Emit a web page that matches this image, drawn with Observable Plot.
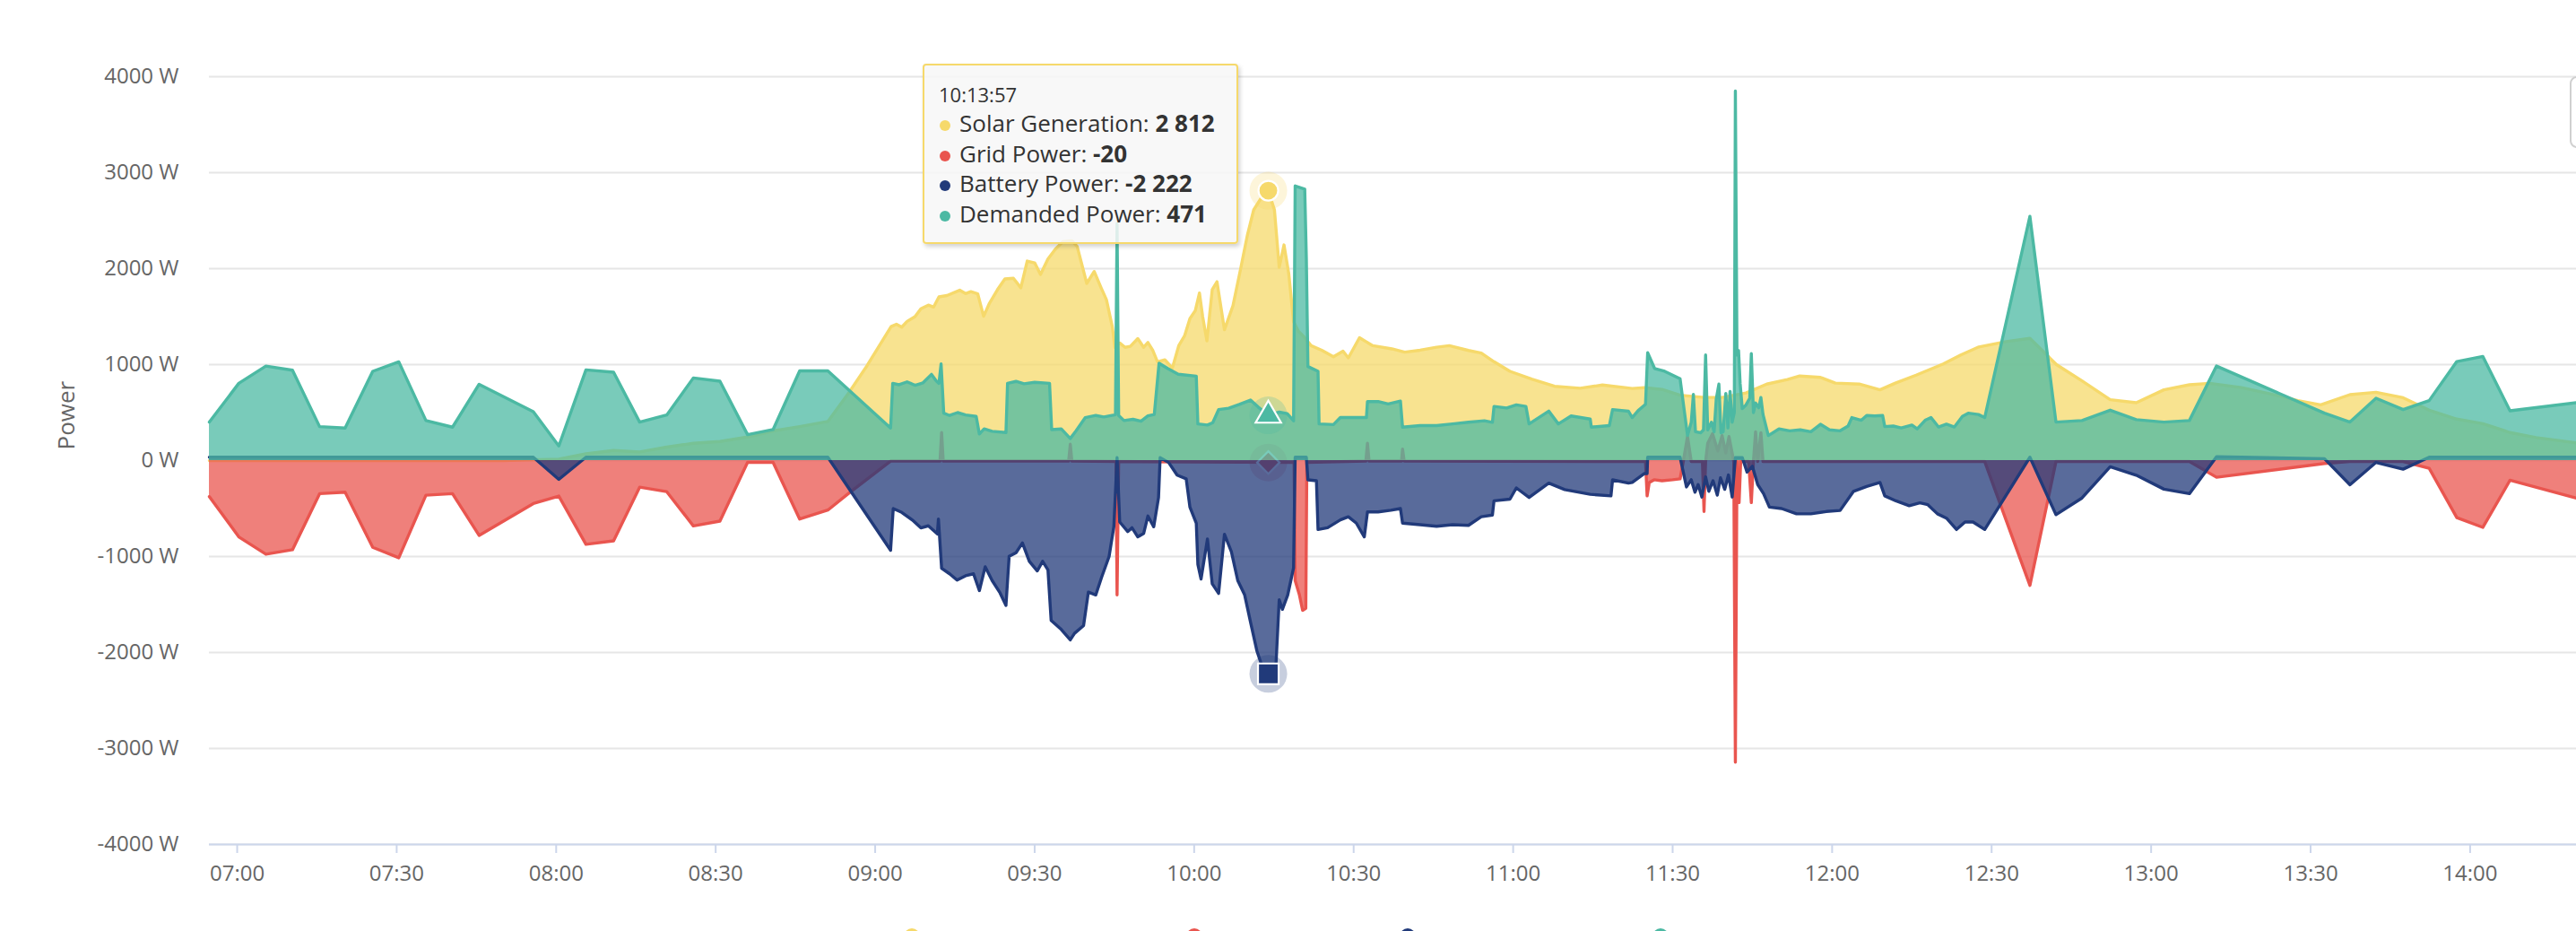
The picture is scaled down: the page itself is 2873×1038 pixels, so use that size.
<!DOCTYPE html>
<html>
<head>
<meta charset="utf-8">
<script src="https://cdn.jsdelivr.net/npm/d3@7"></script>
<script src="https://cdn.jsdelivr.net/npm/@observablehq/plot@0.6"></script>
<style>
  html, body { margin: 0; padding: 0; background: #fff; overflow: hidden; }
  #wrap { position: relative; width: 2873px; height: 1038px; overflow: hidden; font-family: "Open Sans", sans-serif; }
  #chart svg { display: block; }
  #tooltip { position: absolute; left: 1029px; top: 71px; width: 348px; height: 197px; box-sizing: content-box;
    background: rgba(247,247,247,0.85); border: 2px solid #f6d96b; border-radius: 4px;
    box-shadow: 2px 3px 5px rgba(0,0,0,0.18); color: #333; }
  #tooltip .hdr { position: absolute; left: 16px; top: 20px; font-size: 22px; line-height: 24px; white-space: nowrap; }
  #tooltip .row { position: absolute; left: 39px; font-size: 26px; line-height: 30px; white-space: nowrap; }
  #tooltip .dot { position: absolute; left: 17px; width: 12px; height: 12px; border-radius: 50%; }
  #legend { position: absolute; left: 0; top: 1020px; width: 2873px; height: 40px; }
  #legend .sym { position: absolute; top: 15px; width: 18px; height: 18px; border-radius: 50%; }
  #ctx { position: absolute; left: 2866px; top: 85px; width: 40px; height: 76px; border: 2px solid #d0d0d0; border-radius: 8px; background: #fff; }
</style>
</head>
<body>
<div id="wrap">
  <div id="chart"></div>
  <div id="tooltip"></div>
  <div id="legend"></div>
  <div id="ctx"></div>
</div>
<script>
// ---------- data (time of day, watts) ----------
const xTickLabels = ["07:00","07:30","08:00","08:30","09:00","09:30","10:00","10:30","11:00","11:30","12:00","12:30","13:00","13:30","14:00"];
const yTicks = [-4000,-3000,-2000,-1000,0,1000,2000,3000,4000];
const xDomain = ["06:54:46","14:20:00"];
const yAxisTitle = "Power";

const solarGeneration = [
["06:54:46",0],["07:50:00",0],["08:00:30",15],["08:05:36",70],["08:10:48",105],["08:15:42",90],["08:20:48",140],
["08:25:48",180],["08:30:48",199],["08:36:00",245],["08:40:48",308],["08:45:48",354],["08:51:06",407],["08:55:06",711],
["08:58:30",991],["09:03:00",1396],["09:04:00",1420],["09:05:00",1390],["09:06:00",1450],["09:07:30",1500],["09:08:36",1582],
["09:10:00",1620],["09:11:00",1600],["09:12:00",1706],["09:13:30",1720],["09:15:54",1775],["09:17:00",1740],["09:18:00",1760],
["09:19:18",1737],["09:20:24",1504],["09:21:30",1640],["09:23:00",1780],["09:24:24",1893],["09:26:00",1900],["09:27:24",1800],
["09:28:36",2079],["09:30:00",2060],["09:31:06",1939],["09:32:30",2100],["09:33:54",2203],["09:35:18",2281],["09:37:00",2290],
["09:38:00",2230],["09:39:48",1846],["09:41:12",1970],["09:42:30",1800],["09:43:30",1676],["09:44:36",1396],["09:45:06",1178],
["09:46:00",1225],["09:47:00",1180],["09:48:00",1190],["09:49:24",1271],["09:50:30",1180],["09:51:18",1231],["09:52:12",1150],
["09:53:06",1030],["09:54:30",1050],["09:55:54",964],["09:57:06",1197],["09:58:12",1300],["09:59:12",1480],["10:00:12",1560],
["10:01:00",1746],["10:01:36",1500],["10:02:24",1247],["10:03:24",1781],["10:04:18",1863],["10:05:42",1363],["10:07:18",1613],
["10:08:48",2014],["10:10:00",2346],["10:11:12",2612],["10:12:42",2745],["10:13:57",2812],["10:15:06",2612],["10:16:00",2014],
["10:16:54",2247],["10:17:48",1946],["10:18:42",1446],["10:19:36",1350],["10:20:48",1280],["10:22:00",1197],["10:24:00",1150],
["10:26:12",1082],["10:28:00",1140],["10:29:00",1070],["10:31:06",1280],["10:33:36",1197],["10:37:12",1164],["10:39:36",1130],
["10:42:30",1150],["10:45:36",1181],["10:48:00",1197],["10:51:36",1147],["10:54:00",1120],["10:56:24",1030],["10:59:24",930],
["11:03:36",847],["11:07:48",774],["11:12:36",754],["11:16:48",787],["11:22:24",751],["11:24:42",760],["11:28:00",741],
["11:31:24",681],["11:35:54",658],["11:39:18",658],["11:43:48",704],["11:47:42",797],["11:51:36",844],["11:53:54",881],
["11:57:48",867],["12:00:36",807],["12:05:06",797],["12:09:00",737],["12:11:54",807],["12:15:48",890],["12:20:54",1007],
["12:24:12",1100],["12:27:36",1184],["12:32:42",1240],["12:37:12",1273],["12:42:12",1000],["12:47:00",830],["12:52:18",634],
["12:57:12",603],["13:02:24",737],["13:07:12",790],["13:11:00",805],["13:17:00",760],["13:22:00",700],["13:27:36",625],
["13:31:54",581],["13:37:24",687],["13:42:18",711],["13:47:24",655],["13:52:18",525],["13:57:30",432],["14:02:24",385],
["14:07:30",292],["14:12:24",240],["14:20:00",184]
];

const gridPower = [
["06:54:46",-376],["07:00:18",-795],["07:05:24",-976],["07:10:24",-929],["07:15:30",-345],["07:20:18",-329],["07:25:30",-904],
["07:30:24",-1013],["07:35:30",-361],["07:40:30",-345],["07:45:30",-780],["07:55:42",-448],["08:00:30",-370],["08:05:36",-873],
["08:10:48",-836],["08:15:42",-277],["08:20:48",-324],["08:25:48",-681],["08:30:48",-631],["08:36:00",-19],["08:40:48",-19],
["08:45:48",-609],["08:51:06",-516],["08:55:06",-338],["09:02:54",-5],["09:12:12",-5],["09:12:30",292],["09:12:48",-5],
["09:36:24",-5],["09:36:42",170],["09:37:00",-5],["09:45:18",-10],["09:45:30",-1399],["09:45:48",-10],["10:18:48",-20],
["10:19:00",-1250],["10:19:48",-1400],["10:20:24",-1560],["10:21:00",-1540],["10:21:12",-20],["10:32:18",-5],["10:32:36",180],
["10:32:54",-5],["10:39:00",-5],["10:39:12",120],["10:39:30",-5],["11:24:54",-10],["11:25:12",-368],["11:25:36",-228],
["11:26:30",-200],["11:28:00",-210],["11:30:00",-200],["11:31:24",-190],["11:32:00",-10],["11:32:48",250],["11:33:30",-10],
["11:35:36",-10],["11:35:54",-531],["11:36:12",-10],["11:36:36",180],["11:37:30",280],["11:38:30",100],["11:39:18",260],
["11:40:00",80],["11:40:36",250],["11:41:30",-10],["11:41:48",-3142],["11:42:06",-10],["11:42:30",-438],["11:42:48",-10],
["11:44:18",-10],["11:44:48",-438],["11:45:12",-10],["11:45:36",300],["11:46:00",-10],["11:46:36",290],["11:47:00",-10],
["12:28:42",-10],["12:37:12",-1301],["12:42:06",-10],["13:07:12",-10],["13:12:18",-174],["13:32:36",-30],["13:37:24",-10],
["13:47:24",-10],["13:52:18",-81],["13:57:30",-594],["14:02:24",-696],["14:07:30",-205],["14:20:00",-392]
];

const batteryPower = [
["06:54:46",35],["07:55:42",35],["08:00:30",-196],["08:05:36",35],["08:51:06",35],["09:02:54",-935],["09:03:24",-500],
["09:05:00",-540],["09:07:00",-620],["09:08:36",-702],["09:10:00",-680],["09:11:42",-765],["09:11:54",-609],["09:12:30",-1122],
["09:14:00",-1180],["09:15:24",-1246],["09:17:00",-1200],["09:18:30",-1180],["09:19:36",-1355],["09:20:42",-1107],["09:22:00",-1250],
["09:23:30",-1380],["09:24:36",-1510],["09:25:12",-998],["09:26:30",-960],["09:27:42",-858],["09:29:00",-1050],["09:30:30",-1150],
["09:31:30",-1050],["09:32:30",-1140],["09:33:06",-1666],["09:35:00",-1760],["09:36:42",-1868],["09:37:30",-1800],["09:39:12",-1720],
["09:40:06",-1371],["09:41:30",-1400],["09:42:36",-1215],["09:44:00",-1000],["09:44:54",-687],["09:45:30",30],["09:46:00",-640],
["09:47:30",-740],["09:48:18",-700],["09:49:24",-795],["09:50:30",-760],["09:51:18",-578],["09:52:24",-690],["09:53:18",-385],
["09:53:36",30],["09:55:12",-20],["09:56:48",-152],["09:58:30",-190],["09:59:12",-485],["10:00:24",-652],["10:00:42",-1084],
["10:01:18",-1234],["10:02:30",-818],["10:03:24",-1284],["10:04:36",-1384],["10:05:42",-768],["10:07:00",-950],["10:08:12",-1250],
["10:09:30",-1400],["10:10:36",-1684],["10:11:48",-1983],["10:13:00",-2180],["10:13:57",-2222],["10:15:24",-2117],["10:16:00",-1451],
["10:16:36",-1550],["10:17:36",-1400],["10:18:42",-1118],["10:19:00",35],["10:21:06",35],["10:21:24",-201],["10:23:00",-210],
["10:23:18",-718],["10:25:06",-700],["10:27:30",-618],["10:29:00",-585],["10:30:30",-652],["10:32:00",-795],["10:32:36",-535],
["10:34:36",-535],["10:37:00",-518],["10:38:48",-500],["10:39:12",-652],["10:42:30",-668],["10:45:36",-685],["10:48:36",-668],
["10:51:36",-675],["10:54:00",-585],["10:56:06",-568],["10:56:24",-419],["10:59:24",-402],["11:00:36",-285],["11:03:00",-385],
["11:06:42",-235],["11:09:42",-302],["11:14:30",-352],["11:18:24",-368],["11:18:42",-201],["11:21:42",-235],["11:22:24",-228],
["11:24:42",-135],["11:25:12",-135],["11:25:18",35],["11:31:24",35],["11:32:36",-275],["11:33:30",-200],["11:34:12",-330],
["11:34:48",-250],["11:35:30",-380],["11:36:12",-170],["11:36:48",-320],["11:37:36",-210],["11:38:24",-360],["11:39:00",-180],
["11:39:48",-300],["11:40:30",-150],["11:41:12",-380],["11:41:48",30],["11:43:06",30],["11:44:00",-120],["11:45:00",-60],
["11:46:00",-250],["11:47:06",-345],["11:48:12",-485],["11:50:30",-500],["11:53:18",-555],["11:56:00",-555],["11:58:54",-531],
["12:01:30",-520],["12:04:00",-322],["12:06:30",-270],["12:09:00",-228],["12:09:54",-368],["12:12:00",-420],["12:14:30",-470],
["12:16:30",-440],["12:18:00",-460],["12:19:48",-555],["12:21:30",-600],["12:23:24",-718],["12:25:00",-640],["12:26:30",-640],
["12:28:42",-718],["12:37:12",35],["12:42:06",-564],["12:47:00",-390],["12:52:18",-65],["12:57:12",-152],["13:02:24",-298],
["13:07:12",-345],["13:12:18",40],["13:32:36",20],["13:37:24",-252],["13:42:18",-19],["13:47:24",-90],["13:52:18",35],["14:20:00",35]
];

const demandedPower = [
["06:54:46",401],["07:00:18",805],["07:05:24",985],["07:10:24",942],["07:15:30",354],["07:20:18",339],["07:25:30",930],
["07:30:24",1029],["07:35:30",417],["07:40:30",348],["07:45:30",795],["07:55:42",510],["08:00:30",152],["08:05:36",945],
["08:10:48",920],["08:15:42",401],["08:20:48",475],["08:25:48",861],["08:30:48",827],["08:36:00",270],["08:40:48",323],
["08:45:48",935],["08:51:06",935],["09:02:54",339],["09:03:18",805],["09:04:30",790],["09:06:00",820],["09:07:30",785],
["09:09:00",810],["09:10:36",898],["09:11:30",830],["09:12:00",805],["09:12:24",1007],["09:12:54",494],["09:14:00",470],
["09:15:30",500],["09:17:00",475],["09:19:00",460],["09:19:36",277],["09:20:30",330],["09:22:00",305],["09:24:36",292],
["09:24:54",805],["09:26:30",825],["09:28:00",800],["09:30:00",815],["09:32:48",805],["09:33:12",323],["09:35:00",330],
["09:36:42",230],["09:37:48",310],["09:39:30",447],["09:41:30",470],["09:43:00",455],["09:45:12",478],["09:45:30",2470],
["09:45:48",470],["09:46:48",417],["09:48:30",430],["09:50:00",410],["09:51:18",466],["09:52:30",480],["09:53:24",1014],
["09:55:00",960],["09:57:00",900],["10:00:24",880],["10:00:42",382],["10:02:30",370],["10:03:30",395],["10:04:36",531],
["10:06:30",545],["10:08:30",585],["10:10:36",630],["10:12:00",560],["10:13:57",471],["10:16:00",505],["10:17:30",490],
["10:18:42",414],["10:19:00",2862],["10:20:48",2829],["10:21:06",2113],["10:21:24",980],["10:23:18",930],["10:23:30",382],
["10:26:12",375],["10:27:30",448],["10:30:30",448],["10:32:24",448],["10:32:36",615],["10:34:36",615],["10:36:30",590],
["10:38:48",620],["10:39:12",348],["10:42:30",364],["10:45:36",364],["10:48:36",382],["10:51:36",399],["10:54:36",415],
["10:56:06",399],["10:56:24",564],["10:58:48",548],["11:00:36",581],["11:02:24",564],["11:03:00",382],["11:06:42",515],
["11:08:30",382],["11:10:54",465],["11:14:30",432],["11:14:42",348],["11:18:06",365],["11:18:42",531],["11:21:42",514],
["11:22:24",448],["11:23:30",520],["11:24:54",587],["11:25:18",1124],["11:26:36",960],["11:28:30",930],["11:31:24",853],
["11:32:48",261],["11:33:30",400],["11:33:54",690],["11:34:18",300],["11:35:18",290],["11:35:48",320],["11:36:12",1100],
["11:36:36",320],["11:37:18",400],["11:37:48",300],["11:38:12",640],["11:38:42",797],["11:39:06",290],["11:39:30",300],
["11:40:00",700],["11:40:24",340],["11:40:48",720],["11:41:12",400],["11:41:36",500],["11:41:48",3851],["11:42:06",1100],
["11:42:24",1147],["11:42:42",800],["11:43:06",541],["11:43:48",580],["11:44:30",650],["11:44:48",1114],["11:45:12",500],
["11:45:36",600],["11:46:12",550],["11:46:36",657],["11:47:00",480],["11:48:00",261],["11:50:00",330],["11:52:00",310],
["11:54:00",320],["11:56:00",300],["11:57:48",378],["11:59:30",320],["12:01:30",310],["12:03:00",360],["12:03:42",448],
["12:05:30",420],["12:06:30",470],["12:08:00",465],["12:09:30",470],["12:09:54",354],["12:11:30",360],["12:13:00",340],
["12:15:00",370],["12:16:00",330],["12:17:30",420],["12:18:36",448],["12:20:00",350],["12:21:30",380],["12:23:00",350],
["12:24:30",460],["12:25:36",494],["12:27:30",480],["12:28:42",448],["12:37:12",2545],["12:42:06",401],["12:47:00",417],
["12:52:18",525],["12:57:12",426],["13:02:24",401],["13:07:12",417],["13:12:18",985],["13:32:36",494],["13:37:24",401],
["13:42:18",650],["13:47:24",531],["13:52:18",625],["13:57:30",1032],["14:02:24",1085],["14:07:30",519],["14:20:00",603]
];

// hovered point shown in the tooltip
const hoverTime = "10:13:57";
const seriesNames  = ["Solar Generation","Grid Power","Battery Power","Demanded Power"];
const seriesColors = ["#f6d96b","#e9554f","#213a7a","#4cb9a3"];
const seriesSymbols = ["circle","diamond","square","triangle"];
const hoverValues  = [2812, -20, -2222, 471];
const legendX = [1008, 1323, 1561, 1843];

// ---------- helpers ----------
const T = s => new Date("2024-01-01T" + s + "Z");
const seriesData = [solarGeneration, gridPower, batteryPower, demandedPower];
const fmtNum = v => d3.format(",")(v).replace(/,/g, " ").replace(/\u2212/g, "-");

const diamond = { draw(ctx, size) { const h = Math.sqrt(size / 2); ctx.moveTo(0,-h); ctx.lineTo(h,0); ctx.lineTo(0,h); ctx.lineTo(-h,0); ctx.closePath(); } };
const symbolOf = name => name === "diamond" ? diamond : name;

const marks = [
  Plot.gridY(yTicks, {stroke: "#e6e6e6", strokeOpacity: 1, strokeWidth: 2}),
  Plot.axisY(yTicks, {tickSize: 0, tickPadding: 34, fontSize: 24, fill: "#666", tickFormat: d => d + " W", label: null}),
  Plot.text([yAxisTitle], {frameAnchor: "left", dx: -159, dy: -12, rotate: -90, fontSize: 26, fill: "#666", text: d => d})
];

seriesData.forEach((data, i) => {
  const color = seriesColors[i];
  marks.push(Plot.areaY(data, {x: d => T(d[0]), y: d => d[1], fill: color, fillOpacity: 0.75, curve: "linear"}));
  marks.push(Plot.lineY(data, {x: d => T(d[0]), y: d => d[1], stroke: color, strokeWidth: 3.4, curve: "linear", strokeLinejoin: "round"}));
  const hv = [{t: T(hoverTime), v: hoverValues[i]}];
  marks.push(Plot.dot(hv, {x: "t", y: "v", r: 21, fill: color, fillOpacity: 0.25, stroke: null}));
  const r = seriesSymbols[i] === "square" ? 13 : seriesSymbols[i] === "triangle" ? 10.5 : seriesSymbols[i] === "diamond" ? 10 : 11;
  marks.push(Plot.dot(hv, {x: "t", y: "v", r, symbol: symbolOf(seriesSymbols[i]), fill: color, stroke: "#fff", strokeWidth: 2.2}));
});

marks.push(Plot.ruleY([-4000], {stroke: "#ccd6eb", strokeWidth: 2}));
marks.push(Plot.axisX(xTickLabels.map(s => T(s + ":00")), {tickSize: 10, tickPadding: 13, stroke: "#ccd6eb", strokeWidth: 2,
  fill: "#666", fontSize: 24, tickFormat: d3.utcFormat("%H:%M"), label: null}));

const chart = Plot.plot({
  width: 2873,
  height: 1020,
  marginLeft: 233,
  marginRight: 0,
  marginTop: 85,
  marginBottom: 79,
  style: {fontFamily: "'Open Sans', sans-serif", background: "transparent", color: "#666", overflow: "visible"},
  x: {type: "utc", domain: xDomain.map(T)},
  y: {domain: [-4000, 4000]},
  marks
});
document.getElementById("chart").appendChild(chart);

// ---------- tooltip ----------
const tip = document.getElementById("tooltip");
const hdr = document.createElement("div");
hdr.className = "hdr";
hdr.textContent = hoverTime;
tip.appendChild(hdr);
seriesNames.forEach((name, i) => {
  const dot = document.createElement("div");
  dot.className = "dot";
  dot.style.top = (61 + i * 33.6) + "px";
  dot.style.background = seriesColors[i];
  tip.appendChild(dot);
  const row = document.createElement("div");
  row.className = "row";
  row.style.top = (49 + i * 33.6) + "px";
  row.innerHTML = name + ": <b>" + fmtNum(hoverValues[i]) + "</b>";
  tip.appendChild(row);
});

// ---------- legend markers (the legend sits below the visible window; only the tops of its symbols show) ----------
const leg = document.getElementById("legend");
seriesNames.forEach((name, i) => {
  const s = document.createElement("div");
  s.className = "sym";
  s.title = name;
  s.style.left = legendX[i] + "px";
  s.style.background = seriesColors[i];
  leg.appendChild(s);
});
</script>
</body>
</html>
